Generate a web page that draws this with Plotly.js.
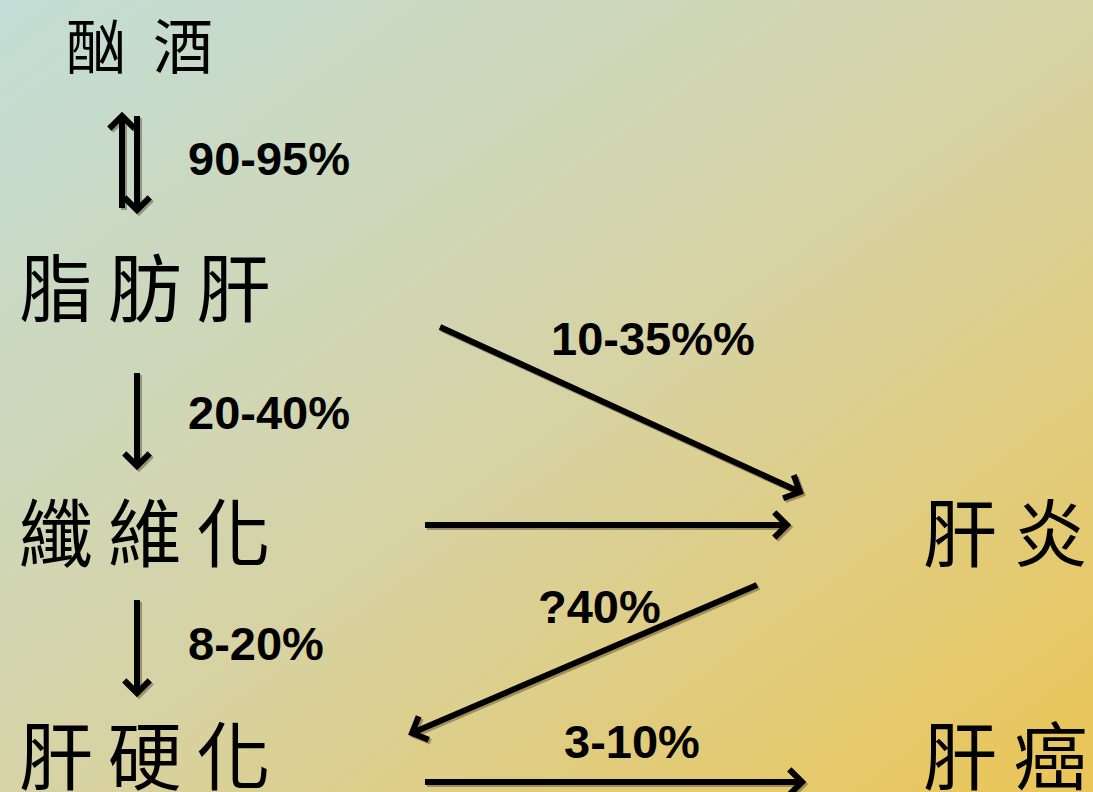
<!DOCTYPE html>
<html>
<head>
<meta charset="utf-8">
<script src="https://cdn.plot.ly/plotly-3.0.1.min.js"></script>
<style>
  html, body { margin: 0; padding: 0; }
  #chart {
    width: 1093px; height: 792px;
    background: linear-gradient(to bottom right, #c2ddd6 0%, #d6d3a6 50%, #ebc555 100%);
  }
</style>
</head>
<body>
<div id="chart"></div>
<script>
// Stage names (nodes of the progression diagram)
const stages = ['酗酒', '脂肪肝', '纖維化', '肝硬化', '肝炎', '肝癌'];
// Transition percentages
const rates = ['90-95%', '20-40%', '8-20%', '10-35%%', '?40%', '3-10%'];

// Layout geometry (pixel space, y downwards)
const stageX = [65, 18, 18, 18, 922, 922];
const stageY = [42, 283, 528, 751, 528, 751];
const stageSize = [60, 74, 74, 74, 74, 74];
const stageSep = ['  ', '\u2009', '\u2009', '\u2009', ' ', ' '];
const rateX = [187, 187, 187, 550, 537, 563];
const rateY = [158, 412, 643, 338, 606, 741];

// Arrows: [tailX, tailY, tipX, tipY]
const arrows = [
  [122, 208, 122, 116],
  [137, 116, 137, 210],
  [137, 373, 137, 466],
  [137, 600, 137, 693],
  [440, 327, 800, 492],
  [425, 525, 787, 525],
  [757, 585, 412, 733],
  [425, 782, 802, 782]
];

function arrowPath(a, dx, dy) {
  const tx = a[2] + dx, ty = a[3] + dy, sx = a[0] + dx, sy = a[1] + dy;
  const ang = Math.atan2(ty - sy, tx - sx);
  const L = 18, spread = Math.PI / 4;
  const h1x = tx - L * Math.cos(ang - spread), h1y = ty - L * Math.sin(ang - spread);
  const h2x = tx - L * Math.cos(ang + spread), h2y = ty - L * Math.sin(ang + spread);
  return `M${sx},${sy}L${tx},${ty}M${h1x},${h1y}L${tx},${ty}L${h2x},${h2y}`;
}

const shapes = [];
arrows.forEach(a => {
  shapes.push({ type: 'path', xref: 'x', yref: 'y', path: arrowPath(a, 2, 2),
    line: { color: 'rgba(80,68,35,0.45)', width: 6 } });
});
arrows.forEach(a => {
  shapes.push({ type: 'path', xref: 'x', yref: 'y', path: arrowPath(a, 0, 0),
    line: { color: '#000000', width: 6 } });
});

const annotations = [];
stages.forEach((s, i) => {
  annotations.push({
    x: stageX[i], y: stageY[i], xref: 'x', yref: 'y',
    xanchor: 'left', yanchor: 'middle', showarrow: false, borderpad: 0,
    text: s.split('').join(stageSep[i]),
    font: { family: '"Noto Sans CJK TC", "Noto Sans CJK SC", sans-serif', size: stageSize[i], color: '#000' }
  });
});
rates.forEach((r, i) => {
  annotations.push({
    x: rateX[i], y: rateY[i], xref: 'x', yref: 'y',
    xanchor: 'left', yanchor: 'middle', showarrow: false, borderpad: 0,
    text: '<b>' + r + '</b>',
    font: { family: '"Liberation Sans", Arial, sans-serif', size: 47, color: '#000' }
  });
});

const layout = {
  width: 1093, height: 792,
  margin: { l: 0, r: 0, t: 0, b: 0 },
  paper_bgcolor: 'rgba(0,0,0,0)',
  plot_bgcolor: 'rgba(0,0,0,0)',
  showlegend: false,
  xaxis: { range: [0, 1093], visible: false, fixedrange: true },
  yaxis: { range: [792, 0], visible: false, fixedrange: true },
  shapes: shapes,
  annotations: annotations
};

Plotly.newPlot('chart', [], layout, { displayModeBar: false, staticPlot: true });
</script>
</body>
</html>
